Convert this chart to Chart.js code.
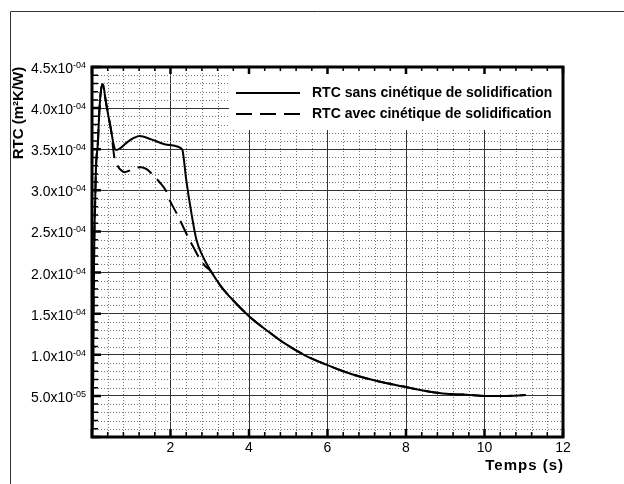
<!DOCTYPE html>
<html>
<head>
<meta charset="utf-8">
<script src="https://cdn.jsdelivr.net/npm/chart.js@4.4.0/dist/chart.umd.min.js"></script>
<style>
  html, body { margin: 0; padding: 0; background: #fff; }
  #wrap { width: 624px; height: 484px; }
</style>
</head>
<body>
<div id="wrap"><canvas id="rtcChart" width="624" height="484"></canvas></div>
<script>
// valeurs (temps en s, RTC en m2K/W)
const timeSans = [0, 0.02, 0.03, 0.04, 0.06, 0.08, 0.1, 0.15, 0.19, 0.23, 0.27, 0.3, 0.34, 0.4, 0.49, 0.55, 0.61,
  0.74, 0.91, 1.08, 1.21, 1.51, 1.85, 2.27, 2.31, 2.4, 2.53, 2.66, 2.82, 3.0, 3.29, 3.6, 4.0, 4.5, 4.87, 5.4,
  5.97, 6.4, 6.82, 7.4, 7.97, 8.69, 9.2, 9.54, 10.0, 10.5, 11.05];
const rtcSans = [0.05e-4, 0.3e-4, 0.82e-4, 1.63e-4, 2.44e-4, 2.85e-4, 3.26e-4, 3.58e-4, 3.99e-4, 4.22e-4, 4.29e-4,
  4.25e-4, 4.12e-4, 3.95e-4, 3.72e-4, 3.56e-4, 3.49e-4,
  3.52e-4, 3.59e-4, 3.64e-4, 3.66e-4, 3.62e-4, 3.56e-4, 3.51e-4, 3.48e-4, 3.13e-4, 2.73e-4, 2.40e-4, 2.20e-4,
  2.04e-4, 1.83e-4, 1.66e-4, 1.47e-4, 1.28e-4, 1.15e-4, 1.00e-4,
  0.88e-4, 0.80e-4, 0.735e-4, 0.665e-4, 0.61e-4, 0.545e-4, 0.52e-4, 0.515e-4, 0.50e-4, 0.50e-4, 0.51e-4];

const timeAvec = [0, 0.02, 0.03, 0.04, 0.06, 0.08, 0.1, 0.15, 0.19, 0.23, 0.27, 0.3, 0.34, 0.4, 0.49, 0.53, 0.57,
  0.65, 0.75, 0.83, 0.95, 1.1, 1.25, 1.38, 1.59, 1.72, 1.89, 1.97, 2.19, 2.27, 2.48, 2.57, 2.78, 2.9, 3.0,
  3.29, 3.6, 4.0, 4.5, 4.87, 5.4, 5.97, 6.4, 6.82, 7.4, 7.97, 8.69, 9.2, 9.54, 10.0, 10.5, 11.05];
const rtcAvec = [0.05e-4, 0.3e-4, 0.82e-4, 1.63e-4, 2.44e-4, 2.85e-4, 3.26e-4, 3.58e-4, 3.99e-4, 4.22e-4, 4.29e-4,
  4.25e-4, 4.12e-4, 3.95e-4, 3.72e-4, 3.55e-4, 3.40e-4,
  3.30e-4, 3.24e-4, 3.22e-4, 3.24e-4, 3.27e-4, 3.28e-4, 3.26e-4, 3.17e-4, 3.10e-4, 2.99e-4, 2.89e-4, 2.69e-4,
  2.61e-4, 2.40e-4, 2.32e-4, 2.14e-4, 2.07e-4, 2.03e-4,
  1.83e-4, 1.66e-4, 1.47e-4, 1.28e-4, 1.15e-4, 1.00e-4, 0.88e-4, 0.80e-4, 0.735e-4, 0.665e-4, 0.61e-4,
  0.545e-4, 0.52e-4, 0.515e-4, 0.50e-4, 0.50e-4, 0.51e-4];

const seriesLabels = ["RTC sans cinétique de solidification", "RTC avec cinétique de solidification"];

const xMajorTicks = [0, 2, 4, 6, 8, 10, 12];
const xTickLabels = ["", "2", "4", "6", "8", "10", "12"];
const yMajorTicks = [0, 0.5e-4, 1.0e-4, 1.5e-4, 2.0e-4, 2.5e-4, 3.0e-4, 3.5e-4, 4.0e-4, 4.5e-4];
const yTickMantissa = ["", "5.0x10", "1.0x10", "1.5x10", "2.0x10", "2.5x10", "3.0x10", "3.5x10", "4.0x10", "4.5x10"];
const yTickExponent = ["", "-05", "-04", "-04", "-04", "-04", "-04", "-04", "-04", "-04"];
const minorDiv = 5;

const FONT = "'Liberation Sans', Arial, sans-serif";

const decor = {
  id: "decor",
  beforeDatasetsDraw(chart) {
    const { ctx, chartArea: a, scales: { x, y } } = chart;
    ctx.save();
    ctx.strokeStyle = "#777";
    ctx.lineWidth = 1;
    ctx.setLineDash([1, 2]);
    ctx.beginPath();
    for (let i = 0; i < xMajorTicks.length - 1; i++) {
      const step = (xMajorTicks[i + 1] - xMajorTicks[i]) / minorDiv;
      for (let k = 1; k < minorDiv; k++) {
        const px = Math.round(x.getPixelForValue(xMajorTicks[i] + k * step)) + 0.5;
        ctx.moveTo(px, a.top);
        ctx.lineTo(px, a.bottom);
      }
    }
    for (let i = 0; i < yMajorTicks.length - 1; i++) {
      const step = (yMajorTicks[i + 1] - yMajorTicks[i]) / minorDiv;
      for (let k = 1; k < minorDiv; k++) {
        const py = Math.round(y.getPixelForValue(yMajorTicks[i] + k * step)) + 0.5;
        ctx.moveTo(a.left, py);
        ctx.lineTo(a.right, py);
      }
    }
    ctx.stroke();
    ctx.setLineDash([]);
    // fond blanc de la legende
    ctx.fillStyle = "#fff";
    ctx.fillRect(229, a.top, a.right - 229, 130 - a.top);
    ctx.restore();
  },
  afterDatasetsDraw(chart) {
    const { ctx, chartArea: a, scales: { x, y } } = chart;
    ctx.save();
    ctx.strokeStyle = "#000";
    ctx.fillStyle = "#000";

    // ticks
    ctx.lineWidth = 1.5;
    ctx.beginPath();
    for (let i = 0; i < xMajorTicks.length - 1; i++) {
      const step = (xMajorTicks[i + 1] - xMajorTicks[i]) / minorDiv;
      for (let k = 1; k < minorDiv; k++) {
        const px = x.getPixelForValue(xMajorTicks[i] + k * step);
        ctx.moveTo(px, a.bottom); ctx.lineTo(px, a.bottom - 5);
        ctx.moveTo(px, a.top); ctx.lineTo(px, a.top + 4);
      }
    }
    for (let i = 0; i < yMajorTicks.length - 1; i++) {
      const step = (yMajorTicks[i + 1] - yMajorTicks[i]) / minorDiv;
      for (let k = 1; k < minorDiv; k++) {
        const py = y.getPixelForValue(yMajorTicks[i] + k * step);
        ctx.moveTo(a.left, py); ctx.lineTo(a.left + 6, py);
      }
    }
    ctx.stroke();
    ctx.lineWidth = 2.5;
    ctx.beginPath();
    xMajorTicks.forEach(v => {
      const px = x.getPixelForValue(v);
      ctx.moveTo(px, a.bottom); ctx.lineTo(px, a.bottom - 8);
      ctx.moveTo(px, a.top); ctx.lineTo(px, a.top + 7);
    });
    yMajorTicks.forEach(v => {
      const py = y.getPixelForValue(v);
      ctx.moveTo(a.left, py); ctx.lineTo(a.left + 9, py);
    });
    ctx.stroke();

    // cadre du graphe
    ctx.lineWidth = 3;
    ctx.strokeRect(a.left, a.top, a.right - a.left, a.bottom - a.top);

    // labels x
    ctx.font = "14px " + FONT;
    ctx.textAlign = "center";
    ctx.textBaseline = "alphabetic";
    xMajorTicks.forEach((v, i) => {
      ctx.fillText(xTickLabels[i], x.getPixelForValue(v), 452);
    });

    // labels y avec exposant
    yMajorTicks.forEach((v, i) => {
      if (!yTickMantissa[i]) return;
      const py = y.getPixelForValue(v);
      ctx.font = "9px " + FONT;
      const ew = ctx.measureText(yTickExponent[i]).width;
      ctx.textAlign = "left";
      ctx.fillText(yTickExponent[i], 86 - ew, py + 1);
      ctx.font = "14px " + FONT;
      ctx.textAlign = "right";
      ctx.fillText(yTickMantissa[i], 86 - ew, py + 6);
    });

    // titres
    ctx.font = "bold 15px " + FONT;
    ctx.textAlign = "right";
    ctx.letterSpacing = "1px";
    ctx.fillText("Temps (s)", a.right + 1, 470);
    ctx.letterSpacing = "0px";
    ctx.save();
    ctx.translate(23, 113);
    ctx.rotate(-Math.PI / 2);
    ctx.textAlign = "center";
    ctx.fillText("RTC (m²K/W)", 0, 0);
    ctx.restore();

    // legende
    ctx.font = "bold 14px " + FONT;
    ctx.textAlign = "left";
    ctx.textBaseline = "middle";
    const rows = [93, 114];
    chart.data.datasets.forEach((ds, i) => {
      ctx.lineWidth = 2;
      ctx.setLineDash(ds.borderDash || []);
      ctx.beginPath();
      ctx.moveTo(236, rows[i]);
      ctx.lineTo(300, rows[i]);
      ctx.stroke();
      ctx.setLineDash([]);
      ctx.fillText(ds.label, 312, rows[i]);
    });

    // cadre exterieur
    ctx.lineWidth = 1;
    ctx.strokeStyle = "#333";
    ctx.beginPath();
    ctx.moveTo(10.5, 484);
    ctx.lineTo(10.5, 11.5);
    ctx.lineTo(624, 11.5);
    ctx.stroke();
    ctx.restore();
  }
};

const ctx = document.getElementById("rtcChart").getContext("2d");
new Chart(ctx, {
  type: "line",
  data: {
    datasets: [
      {
        label: seriesLabels[0],
        data: timeSans.map((t, i) => ({ x: t, y: rtcSans[i] })),
        borderColor: "#000",
        borderWidth: 2,
        pointRadius: 0,
        cubicInterpolationMode: "monotone"
      },
      {
        label: seriesLabels[1],
        data: timeAvec.map((t, i) => ({ x: t, y: rtcAvec[i] })),
        borderColor: "#000",
        borderWidth: 2,
        borderDash: [16, 8],
        pointRadius: 0,
        cubicInterpolationMode: "monotone"
      }
    ]
  },
  options: {
    responsive: false,
    animation: false,
    devicePixelRatio: 1,
    layout: { padding: { left: 92, top: 67, right: 61, bottom: 47 } },
    plugins: { legend: { display: false }, tooltip: { enabled: false } },
    scales: {
      x: {
        type: "linear",
        min: 0,
        max: 12,
        afterBuildTicks: s => { s.ticks = xMajorTicks.map(v => ({ value: v })); },
        afterFit: s => { s.height = 0; },
        ticks: { display: false },
        grid: { color: "#333", lineWidth: 1, drawTicks: false },
        border: { display: false }
      },
      y: {
        type: "linear",
        min: 0,
        max: 4.5e-4,
        afterBuildTicks: s => { s.ticks = yMajorTicks.map(v => ({ value: v })); },
        afterFit: s => { s.width = 0; },
        ticks: { display: false },
        grid: { color: "#333", lineWidth: 1, drawTicks: false },
        border: { display: false }
      }
    }
  },
  plugins: [decor]
});
</script>
</body>
</html>
